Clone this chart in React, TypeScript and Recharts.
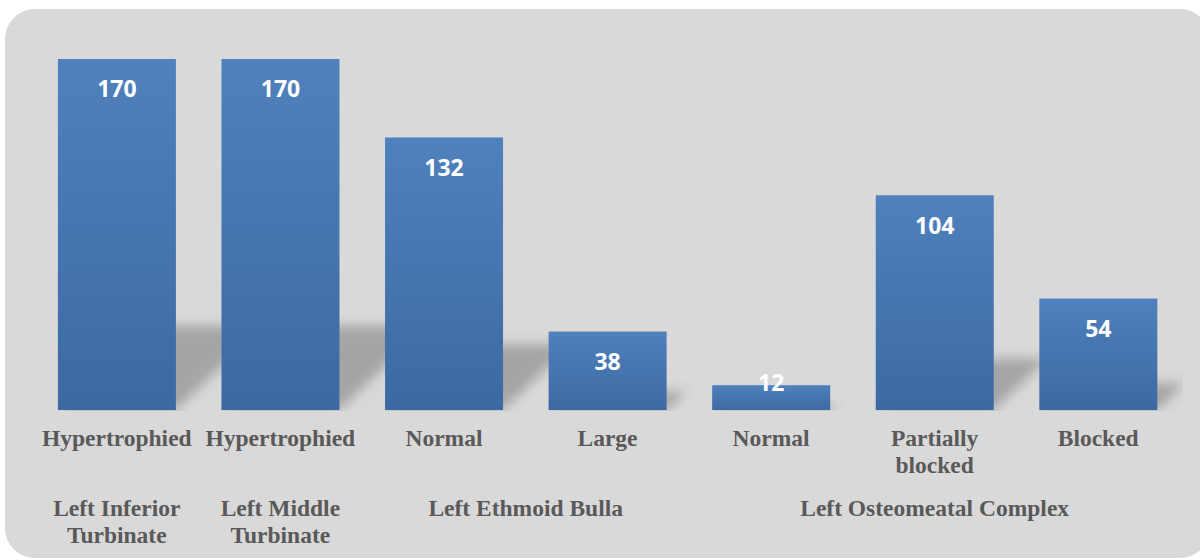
import React from 'react';
import { BarChart, Bar, XAxis, YAxis, LabelList } from 'recharts';

// CT findings on the left side, counts per finding
const statusLines: string[][] = [
  ['Hypertrophied'],
  ['Hypertrophied'],
  ['Normal'],
  ['Large'],
  ['Normal'],
  ['Partially', 'blocked'],
  ['Blocked'],
];
const counts: number[] = [170, 170, 132, 38, 12, 104, 54];
const groupLines: string[][] = [
  ['Left Inferior', 'Turbinate'],
  ['Left Middle', 'Turbinate'],
  ['Left Ethmoid Bulla'],
  ['Left Osteomeatal Complex'],
];
const groupSpans: number[] = [1, 1, 2, 3];

const CHART_W = 1200;
const CHART_H = 560;
const MARGIN = { top: 59, right: 20, bottom: 0, left: 35 };
const AXIS_COLOR = '#595959';
const SERIF = '"Liberation Serif", "Times New Roman", serif';

const rows = counts.map((count, i) => ({
  key: `c${i}`,
  status: statusLines[i].join(' '),
  count,
}));

// index of the first bar in each group
const groupStarts = groupSpans.map((_, g) => groupSpans.slice(0, g).reduce((a, b) => a + b, 0));

const StatusTick = (props: any) => {
  const { x, y, index } = props;
  const lines = statusLines[index] || [];
  return (
    <text x={x} y={y} textAnchor="middle" fill={AXIS_COLOR} fontFamily={SERIF} fontWeight="bold" fontSize={23.5}>
      {lines.map((l, i) => (
        <tspan key={i} x={x} dy={i === 0 ? 36 : 27}>{l}</tspan>
      ))}
    </text>
  );
};

const GroupTick = (props: any) => {
  const { x, y, index, payload, width } = props;
  const g = groupStarts.indexOf(index);
  if (g < 0) return null;
  const step = payload && payload.offset ? payload.offset * 2 : width / rows.length;
  const cx = x + ((groupSpans[g] - 1) / 2) * step;
  return (
    <text x={cx} y={y} textAnchor="middle" fill={AXIS_COLOR} fontFamily={SERIF} fontWeight="bold" fontSize={23.5}>
      {groupLines[g].map((l, i) => (
        <tspan key={i} x={cx} dy={i === 0 ? 36 : 27}>{l}</tspan>
      ))}
    </text>
  );
};

// bar with a soft perspective shadow falling back to the upper right
const ShadowBar = (props: any) => {
  const { x, y, width, height, index } = props;
  if (!height || height <= 0) return null;
  const base = y + height;
  const sh = height * 0.24;
  const dx = sh * 1.05;
  const plotRight = CHART_W - MARGIN.right;
  const pts = [
    [x, base],
    [x + width, base],
    [x + width + dx, base - sh],
    [x + dx, base - sh],
  ]
    .map((p) => p.join(','))
    .join(' ');
  const clipId = `shadowClip-${index}`;
  return (
    <g>
      <clipPath id={clipId}>
        <rect x={x} y={0} width={plotRight - x + 3} height={base + 1} />
      </clipPath>
      <g clipPath={`url(#${clipId})`}>
        <polygon points={pts} fill="#000" fillOpacity={0.24} filter="url(#shadowBlur)" />
      </g>
      <rect x={x} y={y} width={width} height={height} fill="url(#barFill)" />
    </g>
  );
};

const ValueLabel = (props: any) => {
  const { x, y, width, height, value } = props;
  const cy = Math.min(y + 30, y + height - 27);
  return (
    <text
      x={x + width / 2}
      y={cy}
      dy="0.36em"
      textAnchor="middle"
      fill="#fff"
      fontFamily='"Open Sans", sans-serif'
      fontWeight="bold"
      fontSize={23}
    >
      {value}
    </text>
  );
};

export default function App() {
  return (
    <div style={{ position: 'absolute', left: 0, top: 0, width: CHART_W, height: CHART_H, overflow: 'hidden', background: '#fff' }}>
      <div
        style={{
          position: 'absolute',
          left: 5,
          top: 9,
          width: 1205,
          height: 549,
          borderRadius: 30,
          background: '#d9d9d9',
        }}
      />
      <div style={{ position: 'absolute', left: 0, top: 0 }}>
        <BarChart width={CHART_W} height={CHART_H} data={rows} margin={MARGIN} barCategoryGap="14%">
          <defs>
            <linearGradient id="barFill" x1="0" y1="0" x2="0" y2="1">
              <stop offset="0%" stopColor="#4f81bd" />
              <stop offset="100%" stopColor="#3c69a2" />
            </linearGradient>
            <filter id="shadowBlur" x="-30%" y="-60%" width="160%" height="220%">
              <feGaussianBlur stdDeviation="6" />
            </filter>
          </defs>
          <XAxis
            dataKey="key"
            height={70}
            axisLine={false}
            tickLine={false}
            tickSize={0}
            tickMargin={0}
            interval={0}
            tick={<StatusTick />}
          />
          <XAxis
            xAxisId="group"
            dataKey="key"
            height={80}
            axisLine={false}
            tickLine={false}
            tickSize={0}
            tickMargin={0}
            interval={0}
            tick={<GroupTick />}
          />
          <YAxis hide domain={[0, 170]} />
          <Bar dataKey="count" shape={<ShadowBar />} isAnimationActive={false}>
            <LabelList dataKey="count" content={<ValueLabel />} />
          </Bar>
        </BarChart>
      </div>
    </div>
  );
}
